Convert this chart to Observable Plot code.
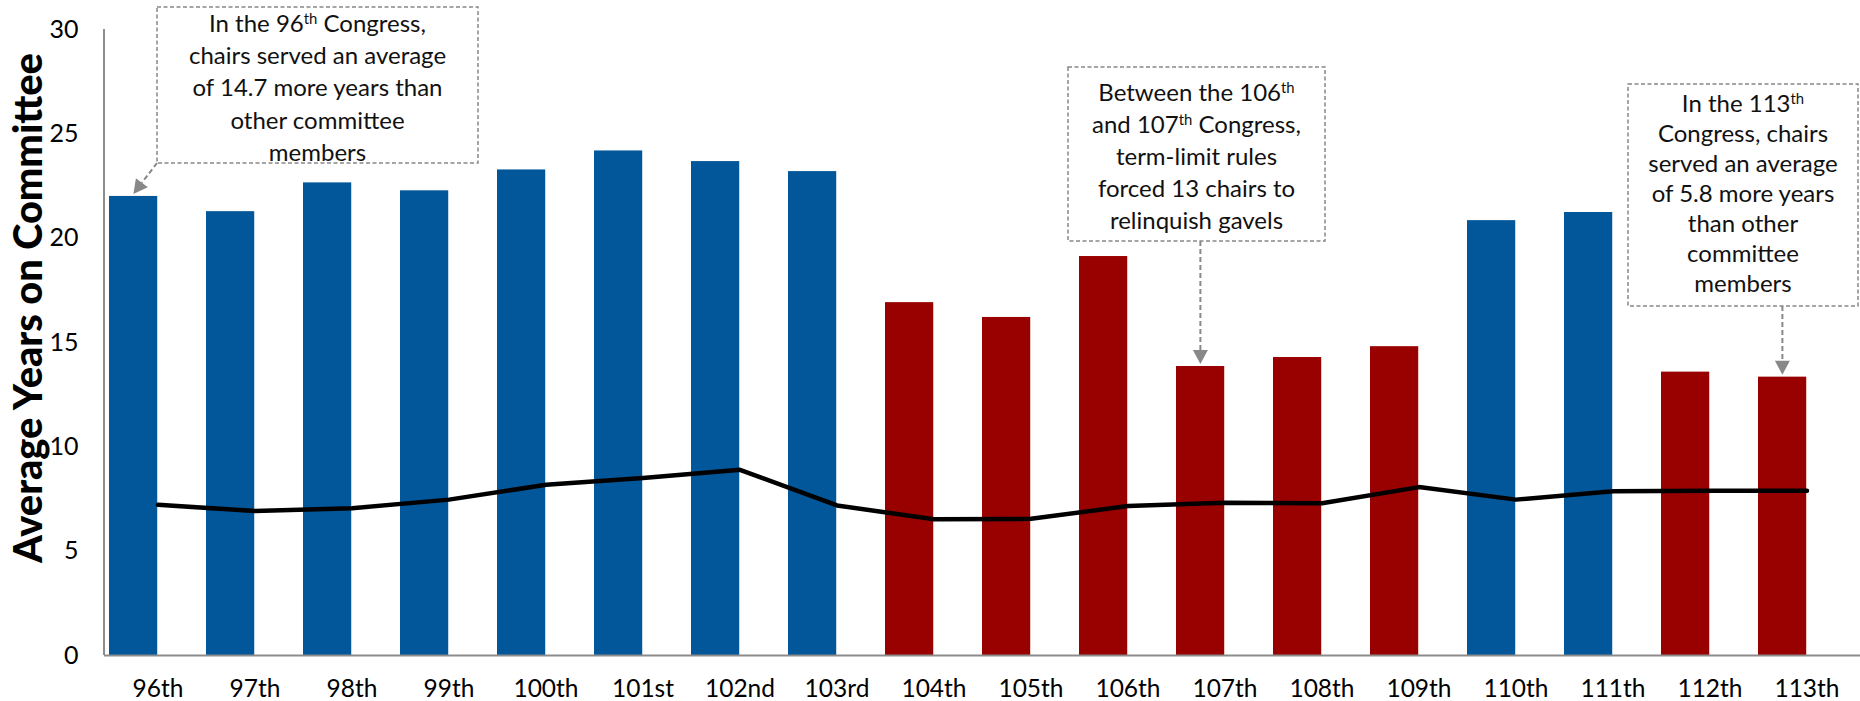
<!DOCTYPE html>
<html><head><meta charset="utf-8">
<script src="https://cdn.jsdelivr.net/npm/d3@7"></script>
<script src="https://cdn.jsdelivr.net/npm/@observablehq/plot@0.6"></script>
<style>
html,body{margin:0;padding:0;background:#fff;}
#chart svg{display:block;}
</style></head><body><div id="chart"></div>
<script>
// ---- data ----
const congresses = ["96th","97th","98th","99th","100th","101st","102nd","103rd","104th","105th","106th","107th","108th","109th","110th","111th","112th","113th"];
const chairYears = [22.0, 21.27, 22.65, 22.27, 23.27, 24.18, 23.67, 23.19, 16.91, 16.20, 19.12, 13.85, 14.28, 14.80, 20.84, 21.23, 13.58, 13.34];
const memberYears = [7.22, 6.92, 7.06, 7.47, 8.18, 8.51, 8.90, 7.19, 6.53, 6.55, 7.16, 7.32, 7.30, 8.07, 7.47, 7.87, 7.89, 7.89];
const majorityParty = ["Democratic","Democratic","Democratic","Democratic","Democratic","Democratic","Democratic","Democratic","Republican","Republican","Republican","Republican","Republican","Republican","Democratic","Democratic","Republican","Republican"];
const parties = ["Democratic","Republican"];
const partyColors = ["#02569A","#990000"];
const yTicks = [0,5,10,15,20,25,30];
const yTitle = "Average Years on Committee";

// annotation texts: each line is a list of [text, superscript?]
const annotationTargets = ["96th","107th","113th"];
const annotationLines = [
  [[["In the 96"],["th",1],[" Congress,"]], [["chairs served an average"]], [["of 14.7 more years than"]], [["other committee"]], [["members"]]],
  [[["Between the 106"],["th",1]], [["and 107"],["th",1],[" Congress,"]], [["term-limit rules"]], [["forced 13 chairs to"]], [["relinquish gavels"]]],
  [[["In the 113"],["th",1]], [["Congress, chairs"]], [["served an average"]], [["of 5.8 more years"]], [["than other"]], [["committee"]], [["members"]]]
];

// ---- layout ----
const W = 1860, H = 701, mL = 104, mR = 0, mT = 29, mB = 46;
const bw = (W - mL - mR) / congresses.length;
const rows = congresses.map((c, i) => ({congress: c, chair: chairYears[i], members: memberYears[i], party: majorityParty[i]}));
const FONT = "Lato, 'Open Sans', sans-serif";

const chart = Plot.plot({
  width: W, height: H,
  marginLeft: mL, marginRight: mR, marginTop: mT, marginBottom: mB,
  style: {fontFamily: FONT, background: "#fff", color: "#000", overflow: "visible"},
  x: {type: "band", domain: congresses, padding: 0, label: null},
  y: {domain: [0, 30], label: null},
  color: {domain: parties, range: partyColors},
  marks: [
    Plot.barY(rows, {x: "congress", y: "chair", fill: "party", insetLeft: 0, insetRight: bw / 2}),
    Plot.ruleY([0], {stroke: "#8c8c8c", strokeWidth: 2}),
    Plot.line(rows, {x: "congress", y: "members", stroke: "#000", strokeWidth: 4.5, strokeLinejoin: "round"}),
    Plot.axisX({tickSize: 0, tickPadding: 24, fontSize: 24.5, label: null}),
    Plot.axisY({ticks: yTicks, tickSize: 0, tickPadding: 26, fontSize: 25, label: null})
  ]
});
document.getElementById("chart").appendChild(chart);

// ---- y axis line, title and annotations ----
const svg = d3.select(chart);
const xs = chart.scale("x"), ys = chart.scale("y");
svg.append("line")
  .attr("x1", mL).attr("x2", mL)
  .attr("y1", ys.apply(30)).attr("y2", ys.apply(0))
  .attr("stroke", "#8c8c8c").attr("stroke-width", 2);

const title = svg.append("text")
  .attr("transform", "translate(28,308) rotate(-90)")
  .attr("text-anchor", "middle").attr("dy", "0.36em")
  .attr("font-family", FONT).attr("font-weight", 900).attr("font-size", 34)
  .attr("fill", "#000").text(yTitle);
const tlen = title.node().getComputedTextLength();
if (tlen > 0) title.attr("font-size", 34 * 510 / tlen);

const boxes = [
  {x1: 157, y1: 7, x2: 478, y2: 163, first: 23, lh: 32.3, corner: true},
  {x1: 1068, y1: 67, x2: 1325, y2: 241, first: 92, lh: 32},
  {x1: 1628, y1: 84, x2: 1858, y2: 306, first: 103, lh: 30}
];

function arrow(g, x0, y0, x1, y1) {
  const a = Math.atan2(y1 - y0, x1 - x0), L = 14, Wd = 7.5;
  const bx = x1 - L * Math.cos(a), by = y1 - L * Math.sin(a);
  g.append("line").attr("x1", x0).attr("y1", y0).attr("x2", bx).attr("y2", by)
    .attr("stroke", "#888").attr("stroke-width", 2).attr("stroke-dasharray", "5,3");
  g.append("path")
    .attr("d", `M${x1},${y1}L${bx + Wd * Math.sin(a)},${by - Wd * Math.cos(a)}L${bx - Wd * Math.sin(a)},${by + Wd * Math.cos(a)}Z`)
    .attr("fill", "#888");
}

const ag = svg.append("g").attr("font-family", FONT).attr("font-size", 24).attr("fill", "#111");
boxes.forEach((b, k) => {
  const i = congresses.indexOf(annotationTargets[k]);
  const tx = xs.apply(congresses[i]) + bw / 4;
  const ty = ys.apply(chairYears[i]) - 2;
  ag.append("rect").attr("x", b.x1).attr("y", b.y1).attr("width", b.x2 - b.x1).attr("height", b.y2 - b.y1)
    .attr("fill", "#fff").attr("stroke", "#888").attr("stroke-width", 1.5).attr("stroke-dasharray", "4,2.5");
  if (b.corner) arrow(ag, b.x1, b.y2, tx, ty);
  else arrow(ag, tx, b.y2, tx, ty);
  const cx = (b.x1 + b.x2) / 2;
  annotationLines[k].forEach((line, j) => {
    const t = ag.append("text").attr("x", cx).attr("y", b.first + j * b.lh).attr("dy", "0.36em").attr("text-anchor", "middle");
    line.forEach(([s, sup]) => {
      const ts = t.append("tspan").text(s);
      if (sup) ts.attr("font-size", "0.62em").attr("baseline-shift", "55%");
    });
  });
});
</script>
</body></html>
